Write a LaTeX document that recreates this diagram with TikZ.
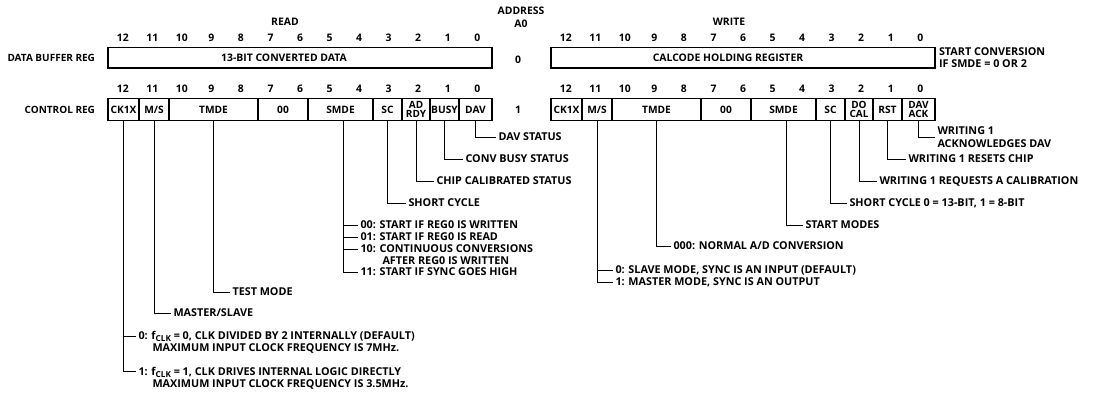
\documentclass[tikz,border=0pt]{standalone}
\usepackage{fontspec}
\setmainfont{Open Sans}
\usetikzlibrary{calc}
\begin{document}
\begin{tikzpicture}[x=1pt,y=-1pt,
  every node/.style={inner sep=0pt, outer sep=0pt},
  base/.style={font=\fontsize{10.4}{11}\selectfont\bfseries},
  txt/.style={base, text height=7.4pt, text depth=0pt},
  lbl/.style={font=\fontsize{10.8}{11}\selectfont\bfseries, text height=7.6pt, text depth=0pt,
    anchor=west, inner xsep=2.5pt},
  regbox/.style={draw, line width=1.5pt, anchor=west, minimum height=20.5pt},
  cell/.style={draw, line width=1.5pt, anchor=west, minimum height=22pt,
    font=\fontsize{10.2}{11}\selectfont\bfseries, text height=7.3pt, text depth=0pt},
  twocell/.style={draw, line width=1.5pt, anchor=west, minimum height=22pt,
    font=\fontsize{10}{8.4}\selectfont\bfseries, align=center},
  lead/.style={line width=1pt},
]
\useasboundingbox (0,0) rectangle (1093,392);
\fill[white] (0,0) rectangle (1093,392);

% headings
\node[txt] (read) at (285,22) {READ};
\node[txt] (write) at (729,22) {WRITE};
\node[txt] (addr) at (521,11) {ADDRESS};
\node[txt] (a0) at (521,24) {A0};
\node[txt] (a0v) at (518,60) {0};
\node[txt] (a1v) at (518,110) {1};

% row labels
\node[txt, anchor=east, font=\fontsize{10}{11}\selectfont\bfseries] (dbr) at (95,58) {DATA BUFFER REG};
\node[txt, anchor=east, font=\fontsize{10}{11}\selectfont\bfseries] (ctr) at (95,110) {CONTROL REG};

% bit numbers
\foreach \b in {0,...,12} {
  \node[txt] (lba\b) at ({122.8+(12-\b)*29.54},38) {\b};
  \node[txt] (rba\b) at ({565.8+(12-\b)*29.54},38) {\b};
  \node[txt] (lbb\b) at ({122.8+(12-\b)*29.54},89) {\b};
  \node[txt] (rbb\b) at ({565.8+(12-\b)*29.54},89) {\b};
}

% data registers
\node[regbox, minimum width=384pt] (ldata) at (108,57.5) {};
\node[txt] (ldatat) at (284,58) {13-BIT CONVERTED DATA};
\node[regbox, minimum width=384pt] (rdata) at (551,57.5) {};
\node[txt] (rdatat) at (728,58) {CALCODE HOLDING REGISTER};
\node[lbl, inner xsep=0pt] (sc1) at (939,52) {START CONVERSION};
\node[lbl, inner xsep=0pt] (sc2) at (939,64) {IF SMDE = 0 OR 2};

% control register (read)
\node[cell, minimum width=31pt] (lCK) at (108,109.5) {CK1X};
\node[cell, minimum width=30pt] (lMS) at (139,109.5) {M/S};
\node[cell, minimum width=89pt] (lTM) at (169,109.5) {TMDE};
\node[cell, minimum width=50pt] (l00) at (258,109.5) {00};
\node[cell, minimum width=65pt] (lSM) at (308,109.5) {SMDE};
\node[cell, minimum width=29pt] (lSC) at (373,109.5) {SC};
\node[twocell, minimum width=28pt] (lAD) at (402,109.5) {AD\\RDY};
\node[cell, minimum width=29pt] (lBU) at (430,109.5) {BUSY};
\node[cell, minimum width=33pt] (lDA) at (459,109.5) {DAV};

% control register (write)
\node[cell, minimum width=31pt] (rCK) at (551,109.5) {CK1X};
\node[cell, minimum width=30pt] (rMS) at (582,109.5) {M/S};
\node[cell, minimum width=89pt] (rTM) at (612,109.5) {TMDE};
\node[cell, minimum width=50pt] (r00) at (701,109.5) {00};
\node[cell, minimum width=65pt] (rSM) at (751,109.5) {SMDE};
\node[cell, minimum width=29pt] (rSC) at (816,109.5) {SC};
\node[twocell, minimum width=28pt] (rDO) at (845,109.5) {DO\\CAL};
\node[cell, minimum width=29pt] (rRS) at (873,109.5) {RST};
\node[twocell, minimum width=33pt] (rDA) at (902,109.5) {DAV\\ACK};

% left labels
\node[lbl] (davs) at (496,137) {DAV STATUS};
\node[lbl] (busys) at (463,159) {CONV BUSY STATUS};
\node[lbl] (cals) at (434,181) {CHIP CALIBRATED STATUS};
\node[lbl] (scs) at (406,203) {SHORT CYCLE};
\node[lbl] (o00) at (358,225) {00: START IF REG0 IS WRITTEN};
\node[lbl] (o01) at (358,237) {01: START IF REG0 IS READ};
\node[lbl] (o10) at (358,249) {10: CONTINUOUS CONVERSIONS};
\node[lbl] (oaf) at (380,260.5) {AFTER REG0 IS WRITTEN};
\node[lbl] (o11) at (358,272) {11: START IF SYNC GOES HIGH};
\node[lbl] (tms) at (230,292) {TEST MODE};
\node[lbl] (mss) at (171,313) {MASTER/SLAVE};
\node[lbl] (c0a) at (136,336) {0: f\raisebox{-2pt}{\fontsize{8.2}{8}\selectfont CLK} = 0, CLK DIVIDED BY 2 INTERNALLY (DEFAULT)};
\node[lbl] (c0b) at (150,348) {MAXIMUM INPUT CLOCK FREQUENCY IS 7MHz.};
\node[lbl] (c1a) at (136,371.5) {1: f\raisebox{-2pt}{\fontsize{8.2}{8}\selectfont CLK} = 1, CLK DRIVES INTERNAL LOGIC DIRECTLY};
\node[lbl] (c1b) at (150,383.5) {MAXIMUM INPUT CLOCK FREQUENCY IS 3.5MHz.};

% right labels
\node[lbl] (w1) at (935,131) {WRITING 1};
\node[lbl] (w2) at (935,143.5) {ACKNOWLEDGES DAV};
\node[lbl] (rsts) at (906,159) {WRITING 1 RESETS CHIP};
\node[lbl] (dcs) at (877,181) {WRITING 1 REQUESTS A CALIBRATION};
\node[lbl] (rscs) at (847,203) {SHORT CYCLE 0 = 13-BIT, 1 = 8-BIT};
\node[lbl] (sms) at (803,225) {START MODES};
\node[lbl] (tmr) at (671,246) {000: NORMAL A/D CONVERSION};
\node[lbl] (m0) at (613,270) {0: SLAVE MODE, SYNC IS AN INPUT (DEFAULT)};
\node[lbl] (m1) at (613,282) {1: MASTER MODE, SYNC IS AN OUTPUT};

% drop points
\coordinate (lsmd) at ([xshift=3pt]lSM.south);
\coordinate (rsmd) at ([xshift=3pt]rSM.south);

% left leads
\draw[lead] (lDA.south) |- (davs.west);
\draw[lead] (lBU.south) |- (busys.west);
\draw[lead] (lAD.south) |- (cals.west);
\draw[lead] (lSC.south) |- (scs.west);
\draw[lead] (lsmd) |- (o11.west);
\draw[lead] (lsmd |- o00.west) -- (o00.west);
\draw[lead] (lsmd |- o01.west) -- (o01.west);
\draw[lead] (lsmd |- o10.west) -- (o10.west);
\draw[lead] (lTM.south) |- (tms.west);
\draw[lead] (lMS.south) |- (mss.west);
\draw[lead] (lCK.south) |- (c1a.west);
\draw[lead] (lCK.south |- c0a.west) -- (c0a.west);

% right leads
\draw[lead] (rDA.south) |- ($(w1.west)!.5!(w2.west)$);
\draw[lead] (rRS.south) |- (rsts.west);
\draw[lead] (rDO.south) |- (dcs.west);
\draw[lead] (rSC.south) |- (rscs.west);
\draw[lead] (rsmd) |- (sms.west);
\draw[lead] (rTM.south) |- (tmr.west);
\draw[lead] (rMS.south) |- (m1.west);
\draw[lead] (rMS.south |- m0.west) -- (m0.west);
\end{tikzpicture}
\end{document}
